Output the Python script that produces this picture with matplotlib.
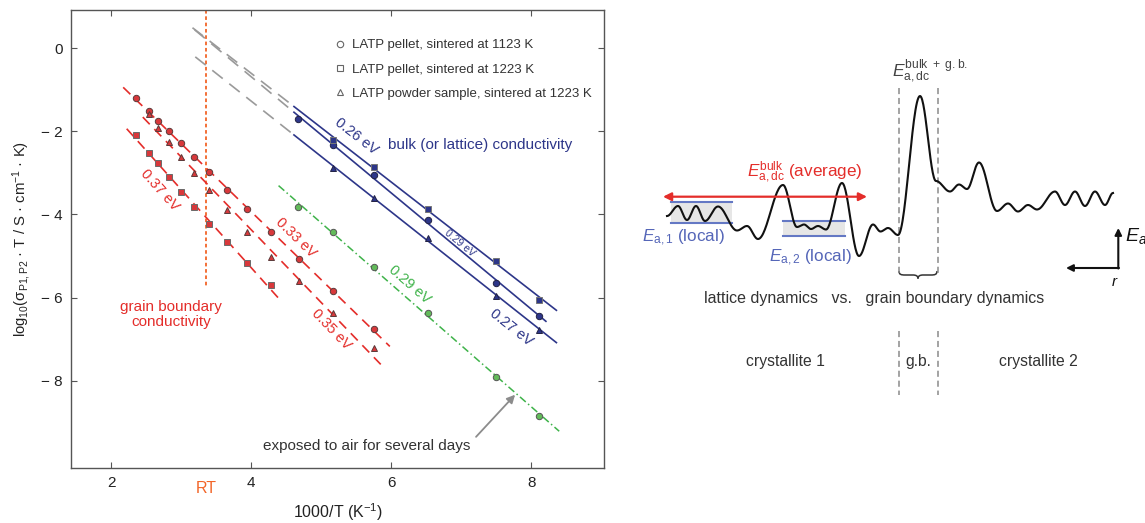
import numpy as np
import matplotlib
matplotlib.use('Agg')
import matplotlib.pyplot as plt
from matplotlib.lines import Line2D
from matplotlib.path import Path
from matplotlib.patches import PathPatch, Rectangle
from matplotlib.ticker import FuncFormatter

plt.rcParams['font.family'] = ['Liberation Sans', 'DejaVu Sans']
plt.rcParams['mathtext.fontset'] = 'custom'
plt.rcParams['mathtext.rm'] = 'Liberation Sans'
plt.rcParams['mathtext.it'] = 'Liberation Sans:italic'
plt.rcParams['mathtext.bf'] = 'Liberation Sans:bold'

# ---- left panel data (1000/T, log10(sigma*T)) ----
gb_x_1123 = [2.35, 2.54, 2.67, 2.83, 2.99, 3.18, 3.40, 3.65, 3.94, 4.28, 4.68, 5.17, 5.76]
gb_y_1123 = [-1.20, -1.51, -1.74, -2.00, -2.28, -2.61, -2.98, -3.41, -3.88, -4.43, -5.07, -5.83, -6.75]
gb_x_powder = [2.54, 2.67, 2.83, 2.99, 3.18, 3.40, 3.65, 3.94, 4.28, 4.68, 5.17, 5.76]
gb_y_powder = [-1.59, -1.91, -2.26, -2.61, -3.01, -3.42, -3.90, -4.42, -5.03, -5.60, -6.37, -7.22]
gb_x_1223 = [2.35, 2.54, 2.67, 2.83, 2.99, 3.18, 3.40, 3.65, 3.94, 4.28]
gb_y_1223 = [-2.08, -2.53, -2.75, -3.09, -3.45, -3.81, -4.23, -4.67, -5.17, -5.69]

bulk_x_1123 = [4.67, 5.17, 5.76, 6.52, 7.50, 8.11]
bulk_y_1123 = [-1.71, -2.32, -3.06, -4.13, -5.64, -6.45]
bulk_x_1223 = [5.17, 5.76, 6.52, 7.50, 8.11]
bulk_y_1223 = [-2.20, -2.86, -3.87, -5.12, -6.05]
bulk_x_powder = [5.17, 5.76, 6.52, 7.50, 8.11]
bulk_y_powder = [-2.87, -3.61, -4.57, -5.95, -6.77]

air_x = [4.67, 5.17, 5.76, 6.52, 7.50, 8.11]
air_y = [-3.81, -4.43, -5.27, -6.37, -7.90, -8.84]

rt_x = 1000 / 298.0
legend_labels = ['LATP pellet, sintered at 1123 K',
                 'LATP pellet, sintered at 1223 K',
                 'LATP powder sample, sintered at 1223 K']

# ---- right panel: energy landscape extrema (schematic, pixel frame) ----
land_x = [667, 678, 687, 696, 705, 718, 737, 747, 758, 783, 797, 804, 811, 818, 826,
          842, 859, 873, 880.5, 888, 898, 920, 936, 950, 959, 967, 979, 997, 1008,
          1018, 1028, 1037, 1055, 1065, 1075, 1085, 1095, 1105, 1113]
land_y = [216, 206, 220, 206, 221, 206.5, 230.5, 226, 239, 185, 227, 224.5, 229, 226, 229.5,
          183, 256, 224.5, 231.5, 228, 235, 96, 181, 191.5, 184.5, 189, 162.5, 211, 203.5,
          211.5, 205, 209.5, 191.5, 205, 191.5, 206, 191.5, 205, 193]

RED = '#e42d2a'
BLUE = '#2d3689'
GREEN = '#3fb34a'
GREY = '#9a9a9a'
ORANGE = '#f26528'
LBLUE = '#6478c4'

W, H = 1145, 523
fig = plt.figure(figsize=(W / 100, H / 100), dpi=100)
ax = fig.add_axes([71.4 / W, 55 / H, 532.6 / W, 458 / H])
ax.set_xlim(1.43, 9.04)
ax.set_ylim(-10.1, 0.92)


def fit(x, y):
    return np.polyfit(x, y, 1)


def draw_fit(p, x0, x1, **kw):
    xs = np.array([x0, x1])
    ax.plot(xs, np.polyval(p, xs), **kw)


def label(x, y, p, text, color, size=10.5):
    ang = np.degrees(np.arctan(p[0]))
    ax.text(x, y, text, color=color, fontsize=size, rotation=ang,
            transform_rotates_text=True, rotation_mode='anchor',
            ha='center', va='center')


# grain boundary lines (red dashed)
red_dash = dict(color=RED, lw=1.2, ls=(0, (6, 4)), zorder=2)
p_gb1 = fit(gb_x_1123, gb_y_1123)
p_gbp = fit(gb_x_powder, gb_y_powder)
p_gb2 = fit(gb_x_1223, gb_y_1223)
draw_fit(p_gb1, 2.17, 5.98, **red_dash)
draw_fit(p_gbp, 2.45, 5.85, **red_dash)
draw_fit(p_gb2, 2.22, 4.40, **red_dash)

# bulk lines (grey dashed extrapolation + blue solid)
p_b2 = fit(bulk_x_1223, bulk_y_1223)
p_b1 = fit(bulk_x_1123, bulk_y_1123)
p_bp = fit(bulk_x_powder, bulk_y_powder)
for p, x0, x1 in [(p_b2, 3.16, 8.36), (p_b1, 3.19, 8.21), (p_bp, 3.20, 8.36)]:
    draw_fit(p, x0, 4.61, color=GREY, lw=1.2, ls=(0, (8, 5)), zorder=2)
    draw_fit(p, 4.61, x1, color=BLUE, lw=1.2, zorder=2)

# air exposed (green dash-dot)
p_air = fit(air_x, air_y)
draw_fit(p_air, 4.39, 8.40, color=GREEN, lw=1.1, ls=(0, (5, 2, 1, 2)), zorder=2)

# room temperature marker
ax.plot([rt_x, rt_x], [0.92, -5.73], color=ORANGE, lw=1.3, ls=(0, (2, 1.5)), zorder=1)
ax.text(rt_x, -0.045, 'RT', color=ORANGE, fontsize=11.5, ha='center', va='center',
        transform=ax.get_xaxis_transform())

# markers
mk = dict(ms=4.6, mew=0.7, ls='none', zorder=4)
ax.plot(gb_x_1123, gb_y_1123, marker='o', mfc='#d8383b', mec='#5a3a3a', **mk)
ax.plot(gb_x_powder, gb_y_powder, marker='^', mfc='#d8383b', mec='#5a3a3a', **mk)
ax.plot(gb_x_1223, gb_y_1223, marker='s', mfc='#d8383b', mec='#6a6a6a', **mk)
ax.plot(bulk_x_1123, bulk_y_1123, marker='o', mfc=BLUE, mec='#222244', **mk)
ax.plot(bulk_x_1223, bulk_y_1223, marker='s', mfc=BLUE, mec='#777777', **mk)
ax.plot(bulk_x_powder, bulk_y_powder, marker='^', mfc=BLUE, mec='#222244', **mk)
ax.plot(air_x, air_y, marker='o', mfc='#62bb5a', mec='#555555', **mk)

# line labels
label(2.69, -3.41, p_gb2, '0.37 eV', RED)
label(4.64, -4.57, p_gb1, '0.33 eV', RED)
label(5.14, -6.77, p_gbp, '0.35 eV', RED)
label(6.26, -5.69, p_air, '0.29 eV', GREEN)
label(5.50, -2.12, p_b2, '0.26 eV', BLUE)
label(6.98, -4.69, p_b1, '0.29 eV', BLUE, size=7.5)
label(7.71, -6.73, p_bp, '0.27 eV', BLUE)

ax.text(5.96, -2.34, 'bulk (or lattice) conductivity', color=BLUE, fontsize=11,
        ha='left', va='center')
ax.text(2.855, -6.40, 'grain boundary\nconductivity', color=RED, fontsize=11,
        ha='center', va='center', linespacing=1.05)
ax.annotate('exposed to air for several days', xy=(7.77, np.polyval(p_air, 7.77) - 0.05),
            xytext=(5.65, -9.58), ha='center', va='center', fontsize=11, color='#333333',
            arrowprops=dict(arrowstyle='-|>', color='#8c8c8c', lw=1.3, mutation_scale=12,
                            relpos=(1.0, 0.75), shrinkA=3, shrinkB=0))

handles = [Line2D([], [], marker=m, ls='none', mfc='white', mec='#666666', ms=4.6, mew=0.8)
           for m in ['o', 's', '^']]
ax.legend(handles, legend_labels, loc='upper left', bbox_to_anchor=(0.485, 0.948),
          frameon=False, fontsize=9.5, handlelength=0.8, handletextpad=0.5,
          labelspacing=0.92, borderaxespad=0, labelcolor='#333333')

ax.set_xticks([2, 4, 6, 8])
ax.set_yticks([0, -2, -4, -6, -8])
ax.yaxis.set_major_formatter(FuncFormatter(
    lambda v, _: '0' if v == 0 else '\u2212 %d' % abs(v)))
ax.tick_params(direction='in', top=True, right=True, length=4, width=0.8,
               labelsize=11, colors='#555555', labelcolor='#222222', pad=6)
for s in ax.spines.values():
    s.set_color('#555555')
    s.set_linewidth(1.0)
ax.set_xlabel('1000/T (K$^{-1}$)', fontsize=11.5, color='#222222', labelpad=8)
ax.set_ylabel('log$_{10}$(σ$_{\\mathrm{P1,P2}}$ · T / S · cm$^{-1}$ · K)',
              fontsize=10.7, color='#222222', labelpad=6)

# ---- right panel schematic ----
axr = fig.add_axes([605 / W, 0, (W - 605) / W, 1])
axr.set_xlim(605, W)
axr.set_ylim(H, 0)
axr.axis('off')

axr.add_patch(Rectangle((670.7, 201.7), 61, 21.0, fc='#e6e6e6', ec='none', zorder=1))
axr.add_patch(Rectangle((783.3, 221), 61.7, 14.7, fc='#e6e6e6', ec='none', zorder=1))
axr.plot([670.7, 731.7], [201.7, 201.7], color=LBLUE, lw=1.5, zorder=2)
axr.plot([670.7, 731.7], [222.7, 222.7], color=LBLUE, lw=1.5, zorder=2)
axr.plot([783.3, 845], [221, 221], color=LBLUE, lw=1.5, zorder=2)
axr.plot([783.3, 845], [235.7, 235.7], color=LBLUE, lw=1.5, zorder=2)

seg_x, seg_y = [], []
t = np.linspace(0, 1, 30)
for i in range(len(land_x) - 1):
    seg_x.append(land_x[i] + (land_x[i + 1] - land_x[i]) * t)
    seg_y.append(land_y[i] + (land_y[i + 1] - land_y[i]) * (1 - np.cos(np.pi * t)) / 2)
axr.plot(np.concatenate(seg_x), np.concatenate(seg_y), color='#111111', lw=1.5, zorder=3)

dash = dict(color='#8a8a8a', lw=1.1, ls=(0, (4, 2.5)), zorder=2)
for xv in [898.5, 937.5]:
    axr.plot([xv, xv], [88, 273], **dash)
    axr.plot([xv, xv], [331, 395], **dash)

# curly brace under the grain boundary region
brace = Path([(899, 271),
              (899, 274.5), (901, 275), (905, 275),
              (913, 275),
              (916, 275), (918, 276), (918, 278.5),
              (918, 276), (920, 275), (923, 275),
              (931, 275),
              (935, 275), (937, 274.5), (937, 271)],
             [Path.MOVETO,
              Path.CURVE4, Path.CURVE4, Path.CURVE4,
              Path.LINETO,
              Path.CURVE4, Path.CURVE4, Path.CURVE4,
              Path.CURVE4, Path.CURVE4, Path.CURVE4,
              Path.LINETO,
              Path.CURVE4, Path.CURVE4, Path.CURVE4])
axr.add_patch(PathPatch(brace, fc='none', ec='#333333', lw=1.1))

axr.annotate('', xy=(663, 196.7), xytext=(867, 196.7),
             arrowprops=dict(arrowstyle='<|-|>', color=RED, lw=1.6, mutation_scale=12,
                             shrinkA=0, shrinkB=0))
axr.text(746.7, 176, r'$E_{\mathrm{a,dc}}^{\mathrm{bulk}}$ (average)', color=RED,
         fontsize=12.3, ha='left', va='baseline')
axr.text(891.7, 76, r'$E_{\mathrm{a,dc}}^{\mathrm{bulk\ +\ g.b.}}$', color='#444444',
         fontsize=12.5, ha='left', va='baseline')
axr.text(642, 238, r'$E_{\mathrm{a,1}}$ (local)', color='#5566b8', fontsize=12.3,
         ha='left', va='center')
axr.text(769, 258, r'$E_{\mathrm{a,2}}$ (local)', color='#5566b8', fontsize=12.3,
         ha='left', va='center')
axr.text(874, 299, 'lattice dynamics   vs.   grain boundary dynamics', color='#333333',
         fontsize=11.5, ha='center', va='center')
for xv, txt in [(785.6, 'crystallite 1'), (918, 'g.b.'), (1038, 'crystallite 2')]:
    axr.text(xv, 361.7, txt, color='#333333', fontsize=11.3, ha='center', va='center')

axr.annotate('', xy=(1118.3, 228), xytext=(1118.3, 268.5),
             arrowprops=dict(arrowstyle='-|>', color='#111111', lw=1.5, mutation_scale=10,
                             shrinkA=0, shrinkB=0))
axr.annotate('', xy=(1066, 268), xytext=(1119, 268),
             arrowprops=dict(arrowstyle='-|>', color='#111111', lw=1.5, mutation_scale=10,
                             shrinkA=0, shrinkB=0))
axr.text(1125, 236, r'$E_a$', fontsize=14, color='#111111', ha='left', va='center')
axr.text(1115, 282, r'$r$', fontsize=11, color='#111111', ha='center', va='center')

fig.savefig('out.png', dpi=100)
